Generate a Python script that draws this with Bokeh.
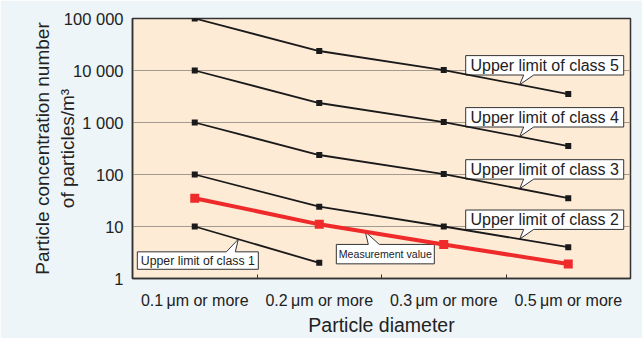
import math
from bokeh.plotting import figure
from bokeh.models import FixedTicker, Range1d
from bokeh.core.properties import value
from bokeh.embed import file_html
from bokeh.resources import INLINE

# ---- data ----
categories = ["0.1\u2009\u03bcm or more", "0.2\u2009\u03bcm or more",
              "0.3\u2009\u03bcm or more", "0.5\u2009\u03bcm or more"]
class5 = [100000, 23700, 10200, 3520]
class4 = [10000, 2370, 1020, 352]
class3 = [1000, 237, 102, 35]
class2 = [100, 24, 10, 4]
class1 = [10, 2]
measurement = [35, 11, 4.5, 1.9]
y_ticks = [1, 10, 100, 1000, 10000, 100000]
y_tick_labels = ["1", "10", "100", "1 000", "10 000", "100 000"]

FONT = "Liberation Sans"

W, H = 642, 338
ML, MR, MT, MB = 132, 12, 18, 52
FW, FH = W - ML - MR, H - MT - MB
NX = len(categories)
PX_X = FW / NX
PX_DEC = FH / 5.0

p = figure(width=W, height=H, output_backend="svg", toolbar_location=None,
           x_range=Range1d(0, NX), y_range=Range1d(1, 100000), y_axis_type="log",
           min_border_left=ML, min_border_right=MR, min_border_top=MT, min_border_bottom=MB)
p.background_fill_color = "#fdebd6"
p.border_fill_color = "#edf5f8"
p.outline_line_color = "#333333"
p.outline_line_width = 1.5

xs = [i + 0.5 for i in range(NX)]

# x axis
p.xaxis.ticker = FixedTicker(ticks=xs, minor_ticks=[i for i in range(1, NX)])
p.xaxis.major_label_overrides = {x: c for x, c in zip(xs, categories)}
p.xaxis.major_tick_in = 0
p.xaxis.major_tick_out = 0
p.xaxis.minor_tick_in = 4
p.xaxis.minor_tick_out = 0
p.xaxis.minor_tick_line_color = "#333333"
p.xaxis.axis_line_color = "#333333"
p.xaxis.axis_line_width = 1.5
p.xaxis.major_label_text_font = FONT
p.xaxis.major_label_text_font_size = "16px"
p.xaxis.major_label_text_color = "#222222"
p.xaxis.major_label_standoff = 13
p.xaxis.axis_label = "Particle diameter"
p.xaxis.axis_label_text_font = FONT
p.xaxis.axis_label_text_font_size = "19.5px"
p.xaxis.axis_label_text_font_style = "normal"
p.xaxis.axis_label_text_color = "#222222"
p.xaxis.axis_label_standoff = 2
p.xgrid.visible = False

# y axis
p.yaxis.ticker = FixedTicker(ticks=y_ticks, minor_ticks=[])
p.yaxis.major_label_overrides = {t: l for t, l in zip(y_ticks, y_tick_labels)}
p.yaxis.major_tick_in = 0
p.yaxis.major_tick_out = 0
p.yaxis.minor_tick_line_color = None
p.yaxis.axis_line_color = "#333333"
p.yaxis.axis_line_width = 1.5
p.yaxis.major_label_text_font = FONT
p.yaxis.major_label_text_font_size = "16.5px"
p.yaxis.major_label_text_color = "#222222"
p.yaxis.major_label_standoff = 9
p.yaxis.axis_label = "Particle concentration number\nof particles/m\u00b3"
p.yaxis.axis_label_text_font = FONT
p.yaxis.axis_label_text_font_size = "19px"
p.yaxis.axis_label_text_font_style = "normal"
p.yaxis.axis_label_text_color = "#222222"
p.yaxis.axis_label_standoff = -17
p.ygrid.grid_line_color = "#a39a8f"
p.ygrid.grid_line_width = 1


def callout(series, seg, t, box, base, text, size):
    x0, x1 = xs[seg], xs[seg + 1]
    l0, l1 = math.log10(series[seg]), math.log10(series[seg + 1])
    tx = x0 + t * (x1 - x0)
    ty = 10 ** (l0 + t * (l1 - l0))

    def pt(dx, dy):
        return tx + dx / PX_X, ty * 10 ** (-dy / PX_DEC)

    left, right, top, bottom = box
    bl, br = base
    if top < 0:  # box above tip, pointer from bottom edge
        pts = [pt(left, top), pt(right, top), pt(right, bottom), pt(br, bottom),
               pt(0, 0), pt(bl, bottom), pt(left, bottom)]
    else:  # box below tip, pointer from top edge
        pts = [pt(left, top), pt(bl, top), pt(0, 0), pt(br, top),
               pt(right, top), pt(right, bottom), pt(left, bottom)]
    p.patch([q[0] for q in pts], [q[1] for q in pts], fill_color="white",
            line_color="#333333", line_width=1)
    cx, cy = pt((left + right) / 2, (top + bottom) / 2)
    p.text(x=[cx], y=[cy], text=[text], text_font=value(FONT), text_font_size=size,
           text_align="center", text_baseline="middle", text_color="#222222")


big_box = (-54, 104, -30, -10)
for s, n in [(class5, 5), (class4, 4), (class3, 3), (class2, 2)]:
    callout(s, 2, 0.61, big_box, (4, 14), "Upper limit of class %d" % n, "16px")
callout(class1, 0, 0.35, (-101, 20, 13, 31), (-12, -3), "Upper limit of class 1", "12.3px")
callout(measurement, 1, 0.37, (-29, 69, 13, 33), (3, 14), "Measurement value", "10.6px")

for s in [class5, class4, class3, class2, class1]:
    sx = xs[:len(s)]
    p.line(sx, s, line_color="#1a1a1a", line_width=1.8)
    p.scatter(sx, s, marker="square", size=6, fill_color="#1a1a1a", line_color=None)

p.line(xs, measurement, line_color="#ee2a2a", line_width=4)
p.scatter(xs, measurement, marker="square", size=9, fill_color="#ee2a2a", line_color=None)

open("out.html", "w").write(file_html(p, INLINE))
